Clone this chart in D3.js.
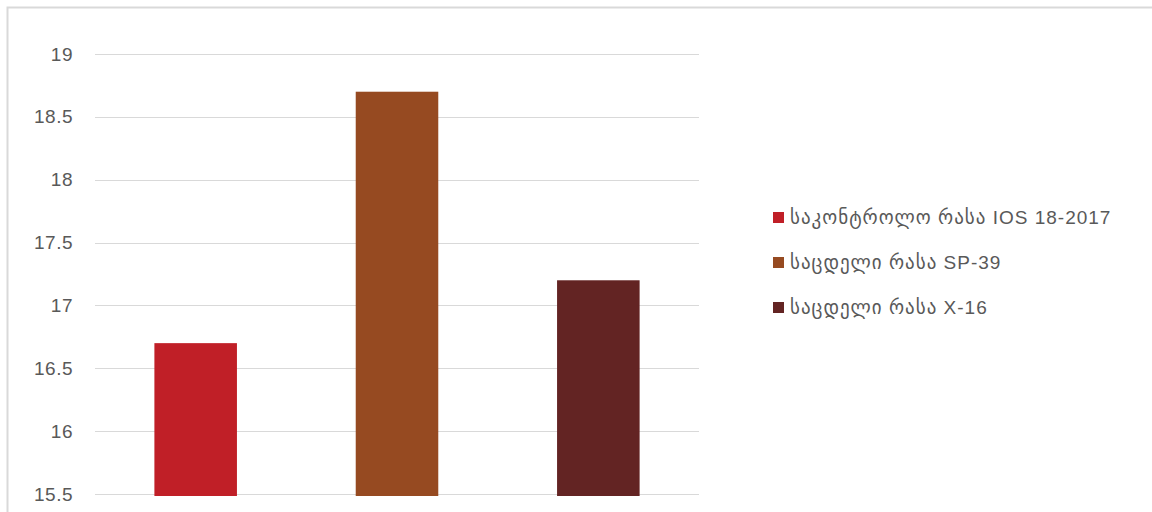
<!DOCTYPE html>
<html>
<head>
<meta charset="utf-8">
<script src="https://cdn.jsdelivr.net/npm/d3@7"></script>
<style>
  body { margin: 0; background: #fff; }
  svg { display: block; font-family: "Liberation Sans", "DejaVu Sans", sans-serif; }
</style>
</head>
<body>
<div id="chart"></div>
<script>
var categories = ["საკონტროლო რასა IOS 18-2017", "საცდელი რასა SP-39", "საცდელი რასა X-16"];
var values = [16.7, 18.7, 17.2];
var colors = ["#c01f27", "#964a21", "#632423"];
var yTicks = [15.5, 16, 16.5, 17, 17.5, 18, 18.5, 19];

var width = 1152, height = 512;
var plot = {left: 95, right: 699, top: 54, bottom: 494};

var svg = d3.select("#chart").append("svg")
    .attr("width", width)
    .attr("height", height);

// outer chart border
svg.append("rect")
    .attr("x", 7.5).attr("y", 7.5)
    .attr("width", 1170).attr("height", 530)
    .attr("fill", "none")
    .attr("stroke", "#d9d9d9")
    .attr("stroke-width", 2);

var x = d3.scaleBand()
    .domain(categories)
    .range([plot.left, plot.right])
    .paddingInner(0.59)
    .paddingOuter(0.295);

var y = d3.scaleLinear()
    .domain([15.5, 19])
    .range([plot.bottom, plot.top]);

// gridlines
svg.append("g")
    .selectAll("line")
    .data(yTicks)
    .enter().append("line")
    .attr("x1", plot.left)
    .attr("x2", plot.right)
    .attr("y1", function(d) { return Math.round(y(d)) + 0.5; })
    .attr("y2", function(d) { return Math.round(y(d)) + 0.5; })
    .attr("stroke", "#d9d9d9")
    .attr("stroke-width", 1);

// y axis labels
var yAxis = d3.axisLeft(y)
    .tickValues(yTicks)
    .tickSize(0)
    .tickPadding(22)
    .tickFormat(function(d) { return String(d); });

var ya = svg.append("g")
    .attr("transform", "translate(" + plot.left + ",0)")
    .call(yAxis);
ya.select(".domain").remove();
ya.selectAll("text")
    .attr("fill", "#595959")
    .style("font-size", "19px")
    .style("letter-spacing", "0.5px")
    .style("font-family", "'Liberation Sans', sans-serif");

// bars
svg.append("g")
    .selectAll("rect")
    .data(categories)
    .enter().append("rect")
    .attr("x", function(d) { return x(d); })
    .attr("width", x.bandwidth())
    .attr("y", function(d, i) { return y(values[i]); })
    .attr("height", function(d, i) { return y(15.5) - y(values[i]) + 2; })
    .attr("fill", function(d, i) { return colors[i]; });

// legend
var legend = svg.append("g")
    .attr("transform", "translate(773,217)")
    .selectAll("g")
    .data(categories)
    .enter().append("g")
    .attr("transform", function(d, i) { return "translate(0," + (i * 45) + ")"; });

legend.append("rect")
    .attr("x", 0).attr("y", -5)
    .attr("width", 11).attr("height", 11)
    .attr("fill", function(d, i) { return colors[i]; });

legend.append("text")
    .attr("x", 17)
    .attr("y", 0)
    .attr("dy", "0.35em")
    .attr("fill", "#595959")
    .style("font-size", "19px")
    .style("letter-spacing", "1px")
    .text(function(d) { return d; });
</script>
</body>
</html>
